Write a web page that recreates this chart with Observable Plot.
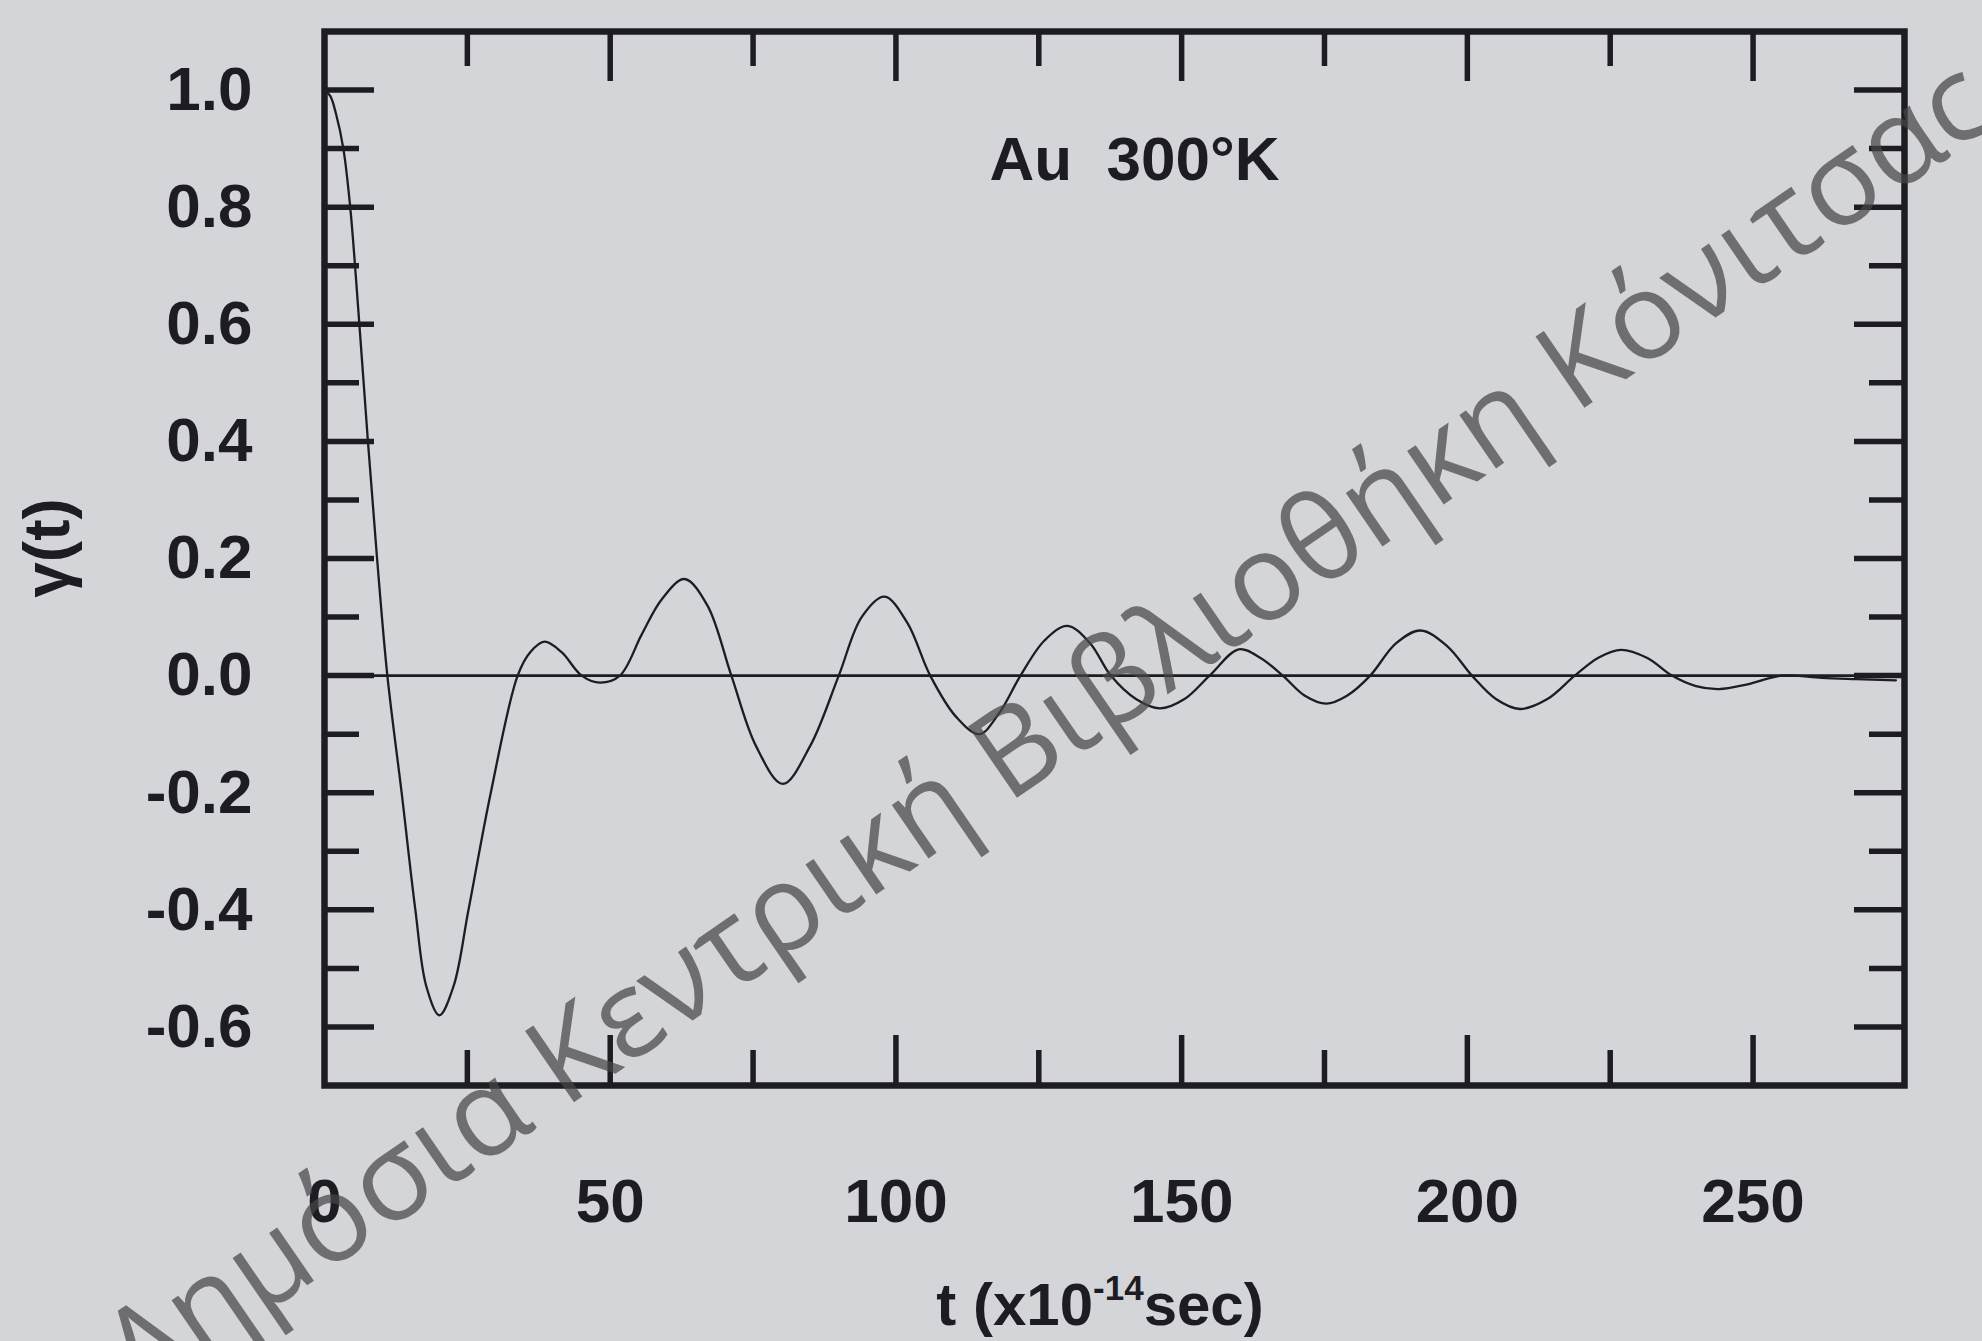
<!DOCTYPE html>
<html><head><meta charset="utf-8">
<script src="https://cdn.jsdelivr.net/npm/d3@7"></script>
<script src="https://cdn.jsdelivr.net/npm/@observablehq/plot@0.6"></script>
<style>
html,body{margin:0;padding:0;background:#d4d5d9;}
#wrap{position:relative;width:1982px;height:1341px;overflow:hidden;background:#d4d5d9;}
#wm{position:absolute;left:1045px;top:722px;transform:translate(-50%,-50%) rotate(-34.5deg);white-space:nowrap;font-family:"Open Sans",sans-serif;font-size:121px;color:rgba(70,70,70,0.72);pointer-events:none;line-height:1;}
</style></head><body><div id="wrap"></div>
<script>
// Data: time t (x10^-14 sec) and gamma(t)
const timeValues = [0, 1, 2, 3.3, 4.5, 6.1, 7.6, 9.2, 11, 13.5, 15.9, 17.8, 20.1, 22.6, 25.2, 29.1, 33.8, 36, 38.5, 41.5, 45, 48.2, 51.7, 55.5, 59, 63, 67, 71.2, 75.5, 80.2, 85, 90, 94, 98, 102, 106, 110.5, 114.6, 118, 121.8, 126, 130, 134, 137.6, 142, 146.2, 150.5, 154.9, 160, 163.8, 167.7, 171.5, 175.3, 179, 183, 187.5, 191.8, 196.5, 200.8, 205, 209.2, 214, 218.8, 223, 226.9, 231.5, 235.8, 240, 244, 249, 255, 262, 268, 275];
const gammaValues = [1.0, 0.99, 0.96, 0.9, 0.8, 0.6, 0.4, 0.2, 0.0, -0.2, -0.4, -0.53, -0.58, -0.53, -0.4, -0.2, 0.0, 0.04, 0.058, 0.04, 0.0, -0.012, 0.0, 0.07, 0.13, 0.165, 0.12, 0.0, -0.12, -0.185, -0.12, 0.0, 0.1, 0.135, 0.09, 0.0, -0.07, -0.1, -0.065, 0.0, 0.06, 0.085, 0.055, 0.0, -0.04, -0.056, -0.04, 0.0, 0.045, 0.03, 0.0, -0.034, -0.048, -0.034, 0.0, 0.055, 0.077, 0.05, 0.0, -0.04, -0.057, -0.04, 0.0, 0.031, 0.044, 0.03, 0.0, -0.018, -0.023, -0.015, 0.0, -0.004, -0.006, -0.008];
const xMajorTicks = [50, 100, 150, 200, 250];
const xMinorTicks = [25, 75, 125, 175, 225];
const xTickLabels = [0, 50, 100, 150, 200, 250];
const yMajorTicks = [-0.6, -0.4, -0.2, 0, 0.2, 0.4, 0.6, 0.8, 1.0];
const yMinorTicks = [-0.5, -0.3, -0.1, 0.1, 0.3, 0.5, 0.7, 0.9];
const xDomain = [0, 276.5];
const yDomain = [-0.7, 1.1];
const titleText = "Au  300°K";
const yLabelText = "γ(t)";
const xLabelParts = ["t (x10", "-14", "sec)"];
const watermarkText = "Δημόσια Κεντρική Βιβλιοθήκη Κόνιτσας";

const W = 1982, H = 1341, mL = 324, mR = 78, mT = 31, mB = 256;
const fw = W - mL - mR, fh = H - mT - mB;
const ink = "#1c1c22";
const font = '"Liberation Sans", Arial, sans-serif';
const majorLen = 50, minorLen = 35, tickW = 5.5;
const data = timeValues.map((t, i) => ({t, g: gammaValues[i]}));

const chart = Plot.plot({
  width: W, height: H,
  marginLeft: mL, marginRight: mR, marginTop: mT, marginBottom: mB,
  style: {background: "transparent", fontFamily: font, fontWeight: "bold", fontSize: "62px", color: ink},
  x: {domain: xDomain},
  y: {domain: yDomain},
  marks: [
    // inward ticks, bottom
    Plot.ruleX(xMajorTicks, {x: d => d, insetTop: fh - majorLen, stroke: ink, strokeWidth: tickW}),
    Plot.ruleX(xMinorTicks, {x: d => d, insetTop: fh - minorLen, stroke: ink, strokeWidth: tickW}),
    // top
    Plot.ruleX(xMajorTicks, {x: d => d, insetBottom: fh - majorLen, stroke: ink, strokeWidth: tickW}),
    Plot.ruleX(xMinorTicks, {x: d => d, insetBottom: fh - minorLen, stroke: ink, strokeWidth: tickW}),
    // left
    Plot.ruleY(yMajorTicks, {y: d => d, insetRight: fw - majorLen, stroke: ink, strokeWidth: tickW}),
    Plot.ruleY(yMinorTicks, {y: d => d, insetRight: fw - minorLen, stroke: ink, strokeWidth: tickW}),
    // right
    Plot.ruleY(yMajorTicks, {y: d => d, insetLeft: fw - majorLen, stroke: ink, strokeWidth: tickW}),
    Plot.ruleY(yMinorTicks, {y: d => d, insetLeft: fw - minorLen, stroke: ink, strokeWidth: tickW}),
    Plot.ruleY([0], {stroke: ink, strokeWidth: 2.6}),
    Plot.line(data, {x: "t", y: "g", stroke: ink, strokeWidth: 2.3, curve: "catmull-rom"}),
    Plot.frame({stroke: ink, strokeWidth: 6.5}),
    Plot.axisX(xTickLabels, {anchor: "bottom", tickSize: 0, tickPadding: 92, fontSize: 62, fontWeight: "bold", label: null, tickFormat: d => String(d)}),
    Plot.axisY(yMajorTicks, {anchor: "left", tickSize: 0, tickPadding: 72, fontSize: 62, fontWeight: "bold", label: null, tickFormat: d => d.toFixed(1)}),
    Plot.text([titleText], {text: d => d, frameAnchor: "top", dx: 20, dy: 129, lineAnchor: "middle", fontSize: 62, fontWeight: "bold", fill: ink})
  ]
});

const svg = d3.select(chart);
svg.style("display", "block");
// y axis label
svg.append("text")
  .attr("transform", "translate(47,548) rotate(-90)")
  .attr("text-anchor", "middle")
  .attr("dominant-baseline", "central")
  .attr("font-family", font).attr("font-weight", "bold").attr("font-size", 64)
  .attr("fill", ink)
  .text(yLabelText);
// x axis label with superscript
const xl = svg.append("text")
  .attr("x", 1100).attr("y", 1325)
  .attr("text-anchor", "middle")
  .attr("font-family", font).attr("font-weight", "bold").attr("font-size", 60)
  .attr("fill", ink);
xl.append("tspan").text(xLabelParts[0]);
xl.append("tspan").attr("font-size", 35).attr("dy", -25).text(xLabelParts[1]);
xl.append("tspan").attr("dy", 25).text(xLabelParts[2]);

const wrap = document.getElementById("wrap");
wrap.appendChild(chart);
const wm = document.createElement("div");
wm.id = "wm";
wm.textContent = watermarkText;
wrap.appendChild(wm);
</script></body></html>
